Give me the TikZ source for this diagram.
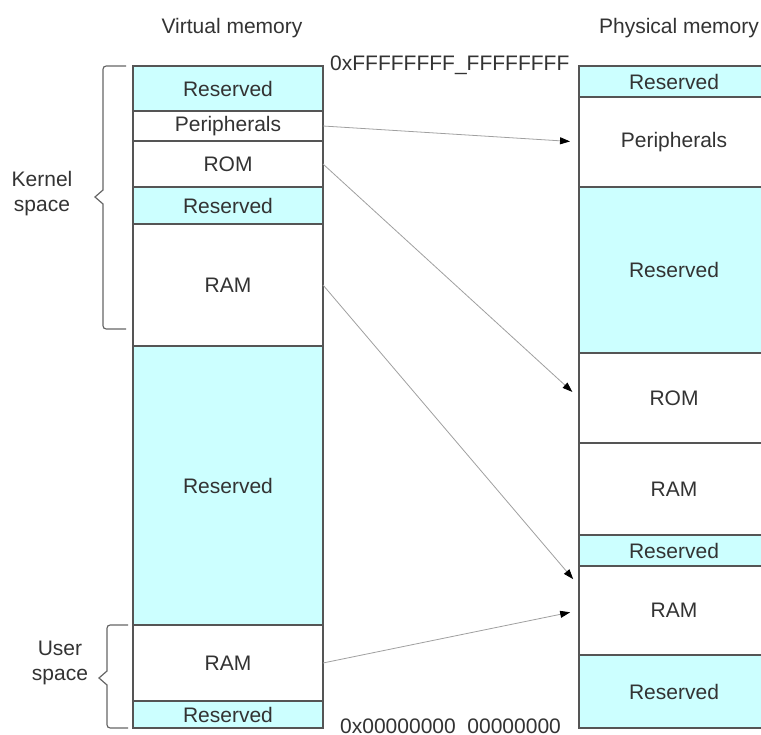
\documentclass[tikz,border=0pt]{standalone}
\usepackage{fontspec}
\setmainfont{Liberation Sans}
\usetikzlibrary{arrows.meta}
\definecolor{cyanfill}{HTML}{CCFFFF}
\definecolor{txt}{HTML}{333333}
\definecolor{edgec}{HTML}{555555}
\definecolor{connc}{HTML}{A0A0A0}
\definecolor{bracec}{HTML}{666666}
\begin{document}
\begin{tikzpicture}[x=1pt,y=-1pt,
  cell/.style={draw=edgec, line width=1.3pt, anchor=north west, minimum width=190pt,
    inner sep=0pt, outer sep=0pt, font=\fontsize{21}{25}\selectfont, text=txt},
  res/.style={cell, fill=cyanfill},
  mem/.style={cell, fill=white},
  conn/.style={draw=connc, line width=0.8pt, -{Triangle[length=10pt,width=7pt,color=black]}, shorten >=9pt},
  lbl/.style={font=\fontsize{21}{25}\selectfont, text=txt, inner sep=0pt},
  brace/.style={draw=bracec, line width=1.2pt}]
\useasboundingbox (0,0) rectangle (761,735);
\clip (0,0) rectangle (761,735);
\fill[white] (0,0) rectangle (761,735);

% headers
\node[lbl] (vh) at (232,28) {Virtual memory};
\node[lbl] (ph) at (679,28) {Physical memory};

% virtual memory column
\node[res, minimum height=45pt]  (v1) at (133,66)  {Reserved};
\node[mem, minimum height=30pt]  (v2) at (133,111) {Peripherals};
\node[mem, minimum height=46pt]  (v3) at (133,141) {ROM};
\node[res, minimum height=37pt]  (v4) at (133,187) {Reserved};
\node[mem, minimum height=122pt] (v5) at (133,224) {RAM};
\node[res, minimum height=279pt] (v6) at (133,346) {Reserved};
\node[mem, minimum height=76pt]  (v7) at (133,625) {RAM};
\node[res, minimum height=27pt]  (v8) at (133,701) {Reserved};

% physical memory column
\node[res, minimum height=31pt]  (p1) at (579,66)  {Reserved};
\node[mem, minimum height=90pt]  (p2) at (579,97)  {Peripherals};
\node[res, minimum height=166pt] (p3) at (579,187) {Reserved};
\node[mem, minimum height=90pt]  (p4) at (579,353) {ROM};
\node[mem, minimum height=92pt]  (p5) at (579,443) {RAM};
\node[res, minimum height=31pt]  (p6) at (579,535) {Reserved};
\node[mem, minimum height=89pt]  (p7) at (579,566) {RAM};
\node[res, minimum height=73pt]  (p8) at (579,655) {Reserved};

% addresses
\node[lbl, anchor=base west] (atop) at (330,71) {0xFFFFFFFF\_FFFFFFFF};
\node[lbl, anchor=base west] (abot) at (340,733) {0x00000000\_00000000};

% braces
\draw[brace] (126,66) -- (110,66) .. controls (103,66) .. (103,73) -- (103,190) -- (95,197)
  -- (103,204) -- (103,322) .. controls (103,329) .. (110,329) -- (126,329);
\draw[brace] (128,625) -- (114,625) .. controls (107,625) .. (107,632) -- (107,671) -- (99,678)
  -- (107,685) -- (107,721) .. controls (107,728) .. (114,728) -- (128,728);
\node[lbl, align=center] (kl) at (42,194) {Kernel\\space};
\node[lbl, align=center] (ul) at (60,663) {User\\space};

% connectors
\draw[conn] (v2.east) -- (p2.west);
\draw[conn] (v3.east) -- (p4.west);
\draw[conn] (v5.east) -- ([yshift=-20pt]p7.north west);
\draw[conn] (v7.east) -- (p7.west);
\end{tikzpicture}
\end{document}
